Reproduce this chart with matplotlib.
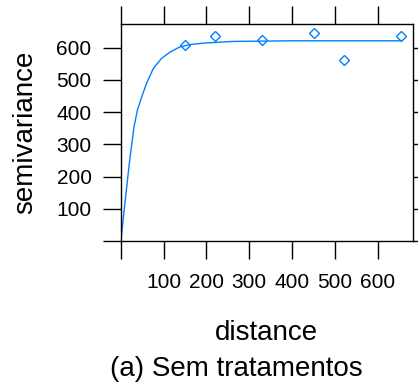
import numpy as np
import matplotlib
matplotlib.use("Agg")
import matplotlib.pyplot as plt

plt.rcParams['font.family'] = ['Liberation Sans', 'DejaVu Sans']

# semivariograma empirico (pontos)
dist_pts = [151, 219, 330, 452, 522, 654]
gamma_pts = [609, 636, 624, 646, 562, 636]

# modelo ajustado
dist_mod = [2, 8, 14, 20, 26, 31, 39, 49, 60, 76, 95, 115, 138, 165, 196, 261, 400, 654]
gamma_mod = [19, 95, 168, 240, 302, 354, 406, 447, 488, 535, 566, 586, 602, 610, 614, 619, 621, 621]

ticks = [0, 100, 200, 300, 400, 500, 600]
tick_labels = ['', '100', '200', '300', '400', '500', '600']

azul = '#0080ff'

fig = plt.figure(figsize=(4.18, 3.82), dpi=100)
ax = fig.add_axes([0.2888, 0.3691, 0.6993, 0.568])

ax.plot(dist_mod, gamma_mod, color=azul, lw=1.0)
ax.plot(dist_pts, gamma_pts, linestyle='none', marker='D', ms=5,
        markerfacecolor='none', markeredgecolor=azul, markeredgewidth=1.0)

ax.set_xlim(0, 682)
ax.set_ylim(0, 673)
ax.set_xticks(ticks)
ax.set_xticklabels(tick_labels)
ax.set_yticks(ticks)
ax.set_yticklabels(tick_labels)
ax.tick_params(direction='out', length=13, width=1.0, labelsize=15,
               top=True, right=True, pad=8)
ax.tick_params(axis='x', pad=10)
for s in ax.spines.values():
    s.set_linewidth(1.0)

ax.set_xlabel('distance', fontsize=20, labelpad=20)
ax.set_ylabel('semivariance', fontsize=20, labelpad=13)

fig.text(236 / 418, 1 - 376 / 382, '(a) Sem tratamentos', fontsize=20,
         ha='center', va='baseline')

fig.savefig('out.png', dpi=100)
